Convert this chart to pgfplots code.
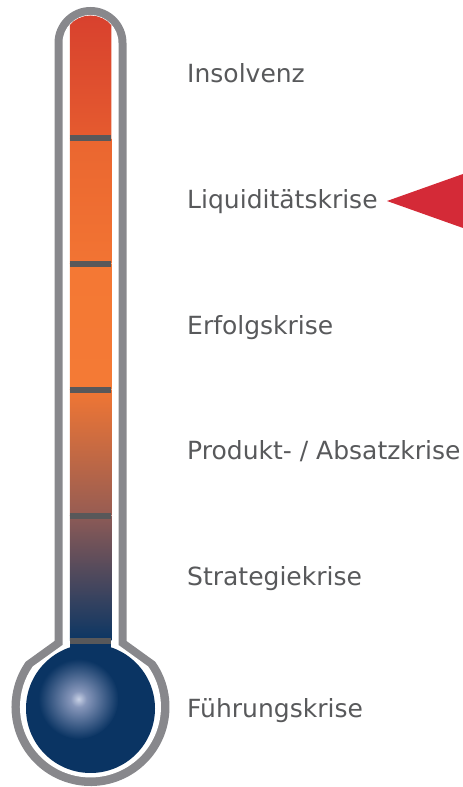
\documentclass[border=0pt]{standalone}
\usepackage{pgfplots}
\pgfplotsset{compat=1.18}
\usepackage{fontspec}
\setmainfont{DejaVu Sans}
\definecolor{outl}{HTML}{88888C}
\definecolor{divg}{HTML}{58585A}
\definecolor{txtg}{HTML}{58595B}
\definecolor{navy}{HTML}{0A3463}
\definecolor{hl}{HTML}{C8D1E5}
\definecolor{hlmid}{HTML}{8696BA}
\definecolor{redtri}{HTML}{D42A37}
\definecolor{cA}{HTML}{D8412E}
\definecolor{cB}{HTML}{E55B2F}
\definecolor{cC}{HTML}{EA6630}
\definecolor{cD}{HTML}{F27433}
\definecolor{cE}{HTML}{F47834}
\definecolor{cF}{HTML}{F47A35}
\definecolor{cG}{HTML}{F07634}
\definecolor{cH}{HTML}{965C53}
\definecolor{cI}{HTML}{8C5A56}
\definecolor{cJ}{HTML}{584D68}
\definecolor{cK}{HTML}{0B3664}
\pgfdeclareradialshading{glow}{\pgfpoint{0bp}{0bp}}{color(0bp)=(hl); color(5bp)=(hlmid); color(25bp)=(navy); color(50bp)=(navy)}
\begin{document}
\begin{tikzpicture}
\begin{axis}[
  width=463pt, height=787pt, scale only axis,
  xmin=0, xmax=463, ymin=0, ymax=787,
  enlargelimits=false, hide axis, clip=false,
]
% outer gray shape
\fill[outl] (axis cs:54.5,146) -- (axis cs:54.5,744) arc[start angle=180,end angle=0,radius=36pt]
  -- (axis cs:126.5,146) -- (axis cs:155.2,125.3) arc[start angle=35,end angle=-215,radius=79pt] -- cycle;
% inner white shape
\fill[white] (axis cs:62.5,141.9) -- (axis cs:62.5,744) arc[start angle=180,end angle=0,radius=28pt]
  -- (axis cs:118.5,141.9) -- (axis cs:148.2,120.5) arc[start angle=35,end angle=-215,radius=70.5pt] -- cycle;
% tube segments
\addplot[draw=none, top color=cA, bottom color=cB] coordinates {
 (69.75,648.5) (69.75,762) (73.5,765.6) (78.5,768.7) (84.5,770.8) (90.5,771.5)
 (96.5,770.8) (102.5,768.7) (107.5,765.6) (111.25,762) (111.25,648.5)} -- cycle;
\addplot[draw=none, top color=cC, bottom color=cD] coordinates {
 (69.75,523) (69.75,648.5) (111.25,648.5) (111.25,523)} -- cycle;
\addplot[draw=none, top color=cE, bottom color=cF] coordinates {
 (69.75,397) (69.75,523) (111.25,523) (111.25,397)} -- cycle;
\addplot[draw=none, top color=cG, bottom color=cH] coordinates {
 (69.75,271) (69.75,397) (111.25,397) (111.25,271)} -- cycle;
\addplot[draw=none, top color=cI, middle color=cJ, bottom color=cK] coordinates {
 (69.75,146) (69.75,271) (111.25,271) (111.25,146)} -- cycle;
\addplot[draw=none, fill=navy] coordinates {
 (69.75,120) (69.75,146) (111.25,146) (111.25,120)} -- cycle;
% bulb
\fill[navy] (axis cs:90.5,78.5) circle[radius=64.5pt];
\begin{scope}
\clip (axis cs:90.5,78.5) circle[radius=64.5pt];
\shade[shading=glow] (axis cs:78.5,88) circle[radius=40pt];
\end{scope}
% dividers
\addplot[draw=divg, line width=6pt] coordinates {(69.75,648.5) (111.25,648.5)};
\addplot[draw=divg, line width=6pt] coordinates {(69.75,523) (111.25,523)};
\addplot[draw=divg, line width=6pt] coordinates {(69.75,397) (111.25,397)};
\addplot[draw=divg, line width=6pt] coordinates {(69.75,271) (111.25,271)};
\addplot[draw=divg, line width=6pt] coordinates {(69.75,146) (111.25,146)};
% labels
\begin{scope}[every node/.style={anchor=base west, text=txtg, inner sep=0pt, font=\fontsize{25}{30}\selectfont}]
\node at (axis cs:187,704) {Insolvenz};
\node at (axis cs:187,578) {Liquiditätskrise};
\node at (axis cs:187,452) {Erfolgskrise};
\node at (axis cs:187,327) {Produkt- / Absatzkrise};
\node at (axis cs:187,201) {Strategiekrise};
\node at (axis cs:187,69) {Führungskrise};
\end{scope}
% pointer
\addplot[draw=none, fill=redtri] coordinates {(387,586) (463,613) (463,559)} -- cycle;
\end{axis}
\pgfresetboundingbox
\path (0,0) rectangle (463pt,787pt);
\end{tikzpicture}
\end{document}
